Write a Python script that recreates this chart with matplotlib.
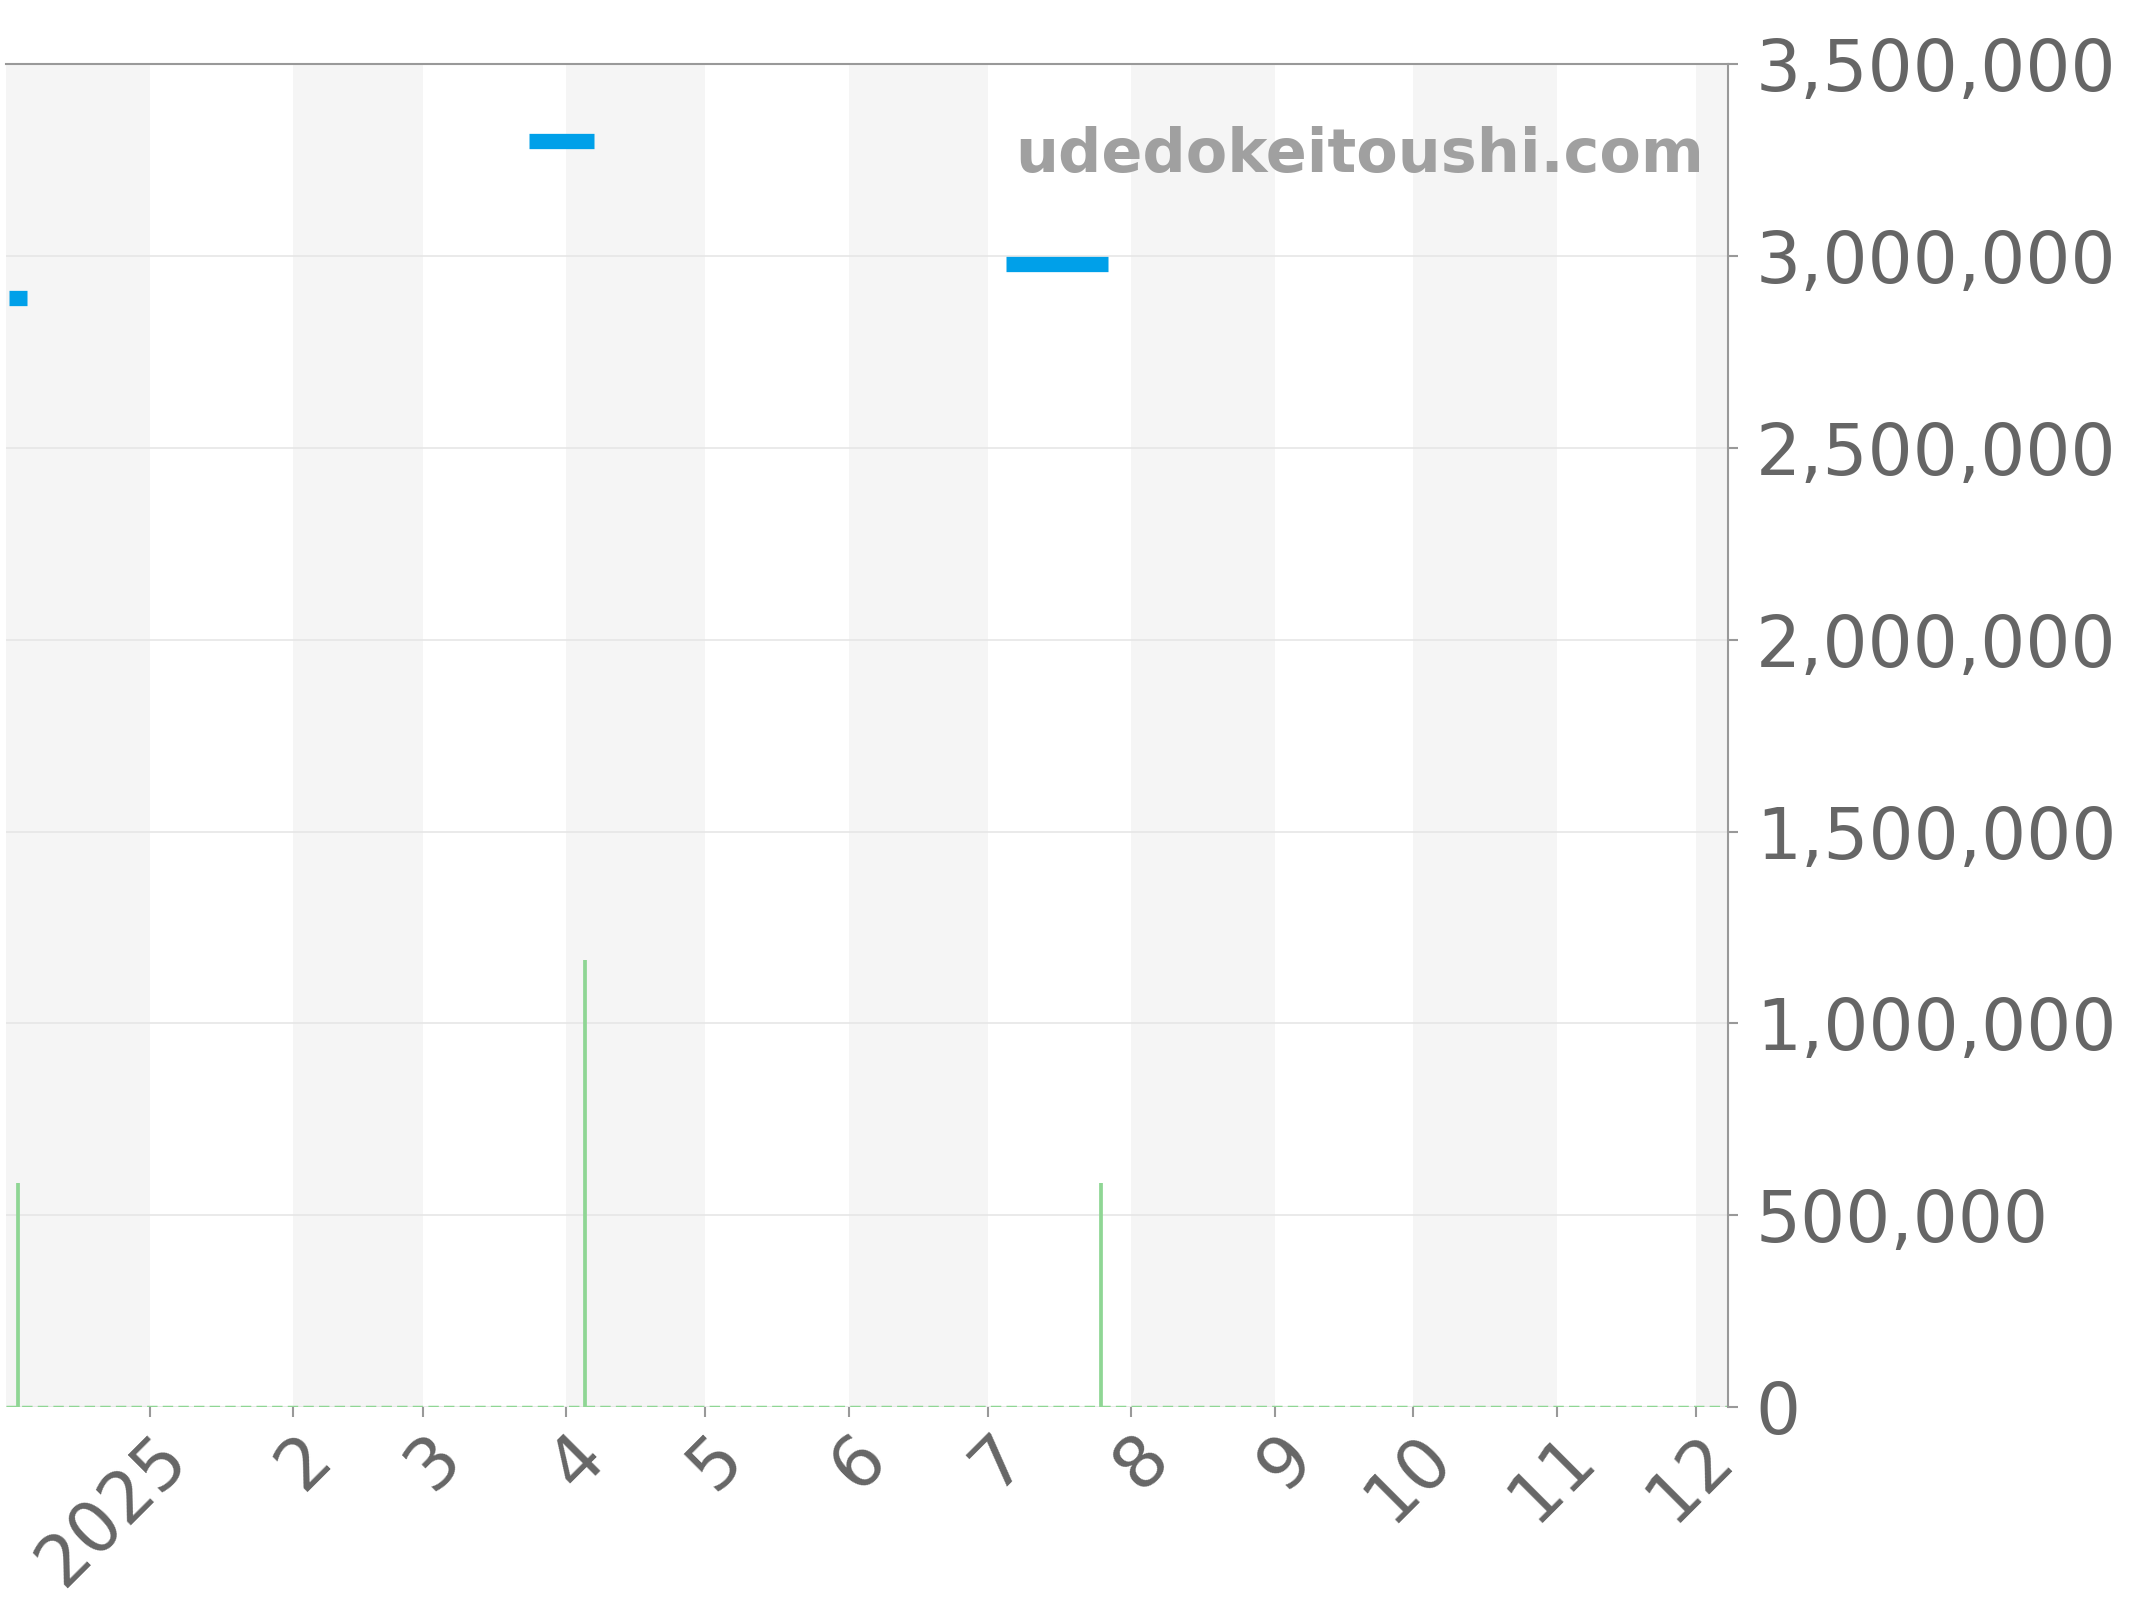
import matplotlib.pyplot as plt
import matplotlib.transforms as mtransforms
import numpy as np
import pandas as pd
from matplotlib.ticker import FuncFormatter

# price segments (start, end, value)
price_start = pd.to_datetime(["2024-12-01 14:00", "2025-03-24 00:00", "2025-07-05 00:00"])
price_end = pd.to_datetime(["2024-12-05 12:00", "2025-04-07 00:00", "2025-07-27 00:00"])
price_value = [2890000, 3300000, 2980000]

# volume spikes
vol_dates = pd.to_datetime(["2024-12-03 12:00", "2025-04-05 00:00", "2025-07-25 12:00"])
vol_value = [585000, 1165000, 585000]

month_starts = pd.date_range("2024-12-01", "2025-12-01", freq="MS")
tick_dates = pd.date_range("2025-01-01", "2025-12-01", freq="MS")
tick_labels = ["2025", "2", "3", "4", "5", "6", "7", "8", "9", "10", "11", "12"]

xmin = pd.Timestamp("2024-12-01")
xmax = pd.Timestamp("2025-12-08")

fig = plt.figure(figsize=(21.44, 16), dpi=100)
ax = fig.add_axes([0.003, 0.1205, 0.803, 0.8395])

# alternating month bands
for i, ms in enumerate(month_starts):
    if i % 2 == 0:
        me = ms + pd.offsets.MonthBegin(1)
        ax.axvspan(ms, min(me, xmax), color="#f5f5f5", lw=0, zorder=0)

ax.grid(axis="y", color="#e6e6e6", lw=1.2, zorder=1)
ax.set_axisbelow(True)

ax.hlines(price_value, price_start, price_end, colors="#00a0e9", lw=11,
          capstyle="butt", zorder=3)
ax.vlines(vol_dates, 0, vol_value, colors="#8fd694", lw=2.7, zorder=2)
ax.axhline(0, color="#8fd694", lw=2.5, ls=(0, (3, 1.5)), zorder=2)

ax.set_xlim(xmin, xmax)
ax.set_ylim(0, 3500000)
ax.set_yticks(np.arange(0, 3500001, 500000))
ax.yaxis.set_major_formatter(FuncFormatter(lambda v, p: "{:,.0f}".format(v)))
ax.yaxis.tick_right()

ax.set_xticks(tick_dates)
ax.set_xticklabels(tick_labels, rotation=45, ha="right", va="center",
                   rotation_mode="anchor")

ax.tick_params(axis="y", labelsize=51, labelcolor="#666666", color="#999999",
               length=7, width=1.5, pad=13)
ax.tick_params(axis="x", labelsize=51, labelcolor="#666666", color="#999999",
               length=7, width=1.5, pad=22)

# nudge the rotated month labels to the right
shift = mtransforms.ScaledTranslation(27 / 100, 1 / 100, fig.dpi_scale_trans)
for lbl in ax.get_xticklabels():
    lbl.set_transform(lbl.get_transform() + shift)

for s in ["left", "bottom"]:
    ax.spines[s].set_visible(False)
for s in ["top", "right"]:
    ax.spines[s].set_color("#999999")
    ax.spines[s].set_linewidth(1.5)

ax.text(0.986, 0.932, "udedokeitoushi.com", transform=ax.transAxes,
        ha="right", va="center", fontsize=43.5, fontweight="bold",
        color="#a0a0a0", zorder=4)

fig.savefig("out.png", dpi=100, facecolor="white")
